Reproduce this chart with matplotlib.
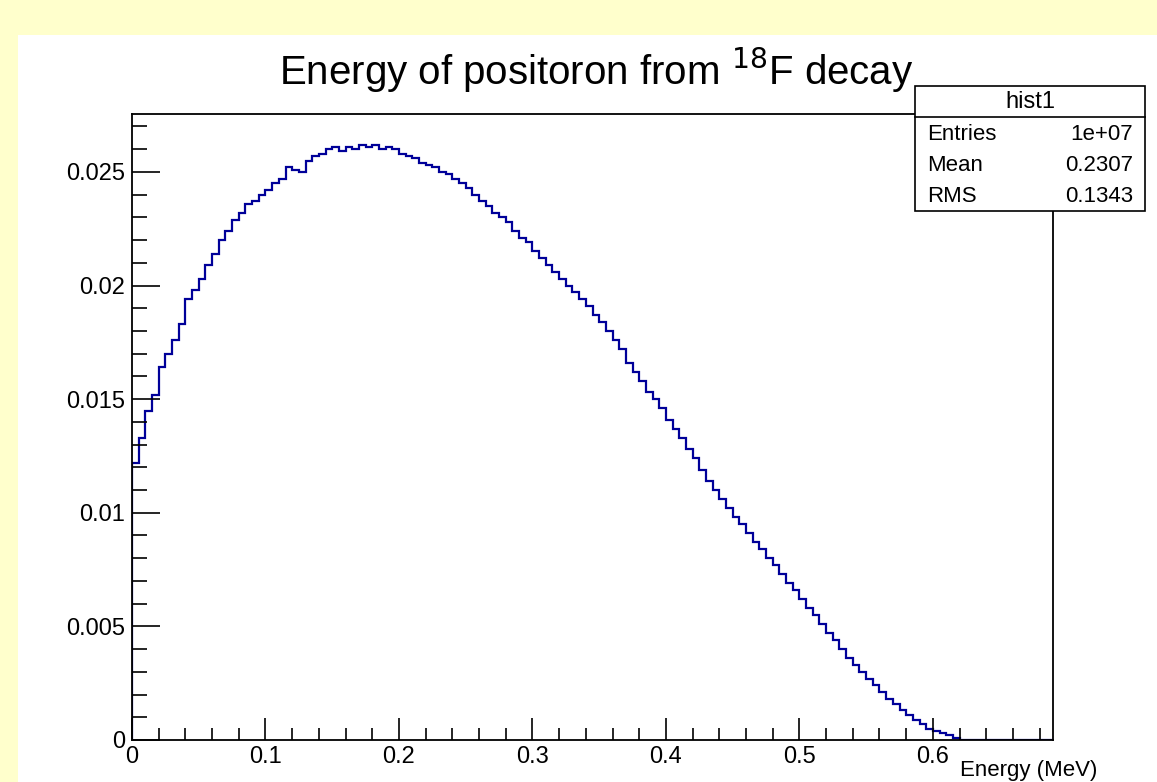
import matplotlib
matplotlib.use("Agg")
import matplotlib.pyplot as plt
import matplotlib.patches as patches
from matplotlib.ticker import MultipleLocator
import numpy as np

plt.rcParams['font.family'] = ['Liberation Sans', 'DejaVu Sans']

# histogram "hist1": positron energy (MeV), bin width 0.005 from 0 to 0.69
bin_width = 0.005
x_max = 0.69
counts = [
    0.0122, 0.0133, 0.0145, 0.0152, 0.0164, 0.0170, 0.0176, 0.0183, 0.0194, 0.0198,
    0.0203, 0.0209, 0.0214, 0.0220, 0.0224, 0.0229, 0.0232, 0.0236, 0.0237, 0.0240,
    0.0242, 0.0245, 0.0247, 0.0252, 0.0251, 0.0250, 0.0255, 0.0257, 0.0258, 0.0260,
    0.0261, 0.0259, 0.0261, 0.0260, 0.0262, 0.0261, 0.0262, 0.0260, 0.0261, 0.0260,
    0.0258, 0.0257, 0.0256, 0.0254, 0.0253, 0.0252, 0.0250, 0.0249, 0.0247, 0.0245,
    0.0243, 0.0240, 0.0237, 0.0235, 0.0232, 0.0230, 0.0228, 0.0224, 0.0221, 0.0219,
    0.0215, 0.0212, 0.0209, 0.0206, 0.0203, 0.0200, 0.0197, 0.0194, 0.0191, 0.0187,
    0.0184, 0.0180, 0.0176, 0.0172, 0.0166, 0.0162, 0.0158, 0.0153, 0.0150, 0.0146,
    0.0141, 0.0137, 0.0133, 0.0128, 0.0124, 0.0119, 0.0114, 0.0110, 0.0106, 0.0102,
    0.0098, 0.0095, 0.0091, 0.0087, 0.0084, 0.0080, 0.0077, 0.0073, 0.0069, 0.0066,
    0.0062, 0.0058, 0.0055, 0.0051, 0.0047, 0.0044, 0.0040, 0.0036, 0.0033, 0.0030,
    0.0027, 0.0024, 0.0021, 0.0018, 0.0016, 0.0013, 0.0011, 0.0009, 0.0007, 0.0005,
    0.0004, 0.0003, 0.0002, 0.0001,
]
n_bins = int(round(x_max / bin_width))
values = np.array(counts + [0.0] * (n_bins - len(counts)))
edges = np.linspace(0, x_max, n_bins + 1)

title = "Energy of positoron from $^{18}$F decay"
x_label = "Energy (MeV)"
stats_name = "hist1"
stats_rows = [("Entries", "1e+07"), ("Mean", "0.2307"), ("RMS", "0.1343")]

W, H = 1157, 782
fig = plt.figure(figsize=(W / 100, H / 100), dpi=100, facecolor='#FFFFCC')

# white canvas (ROOT pad)
fig.patches.append(patches.Rectangle((18 / W, 0), 1, 1 - 35 / H, transform=fig.transFigure,
                                     facecolor='white', edgecolor='none', zorder=0.5))

ax = fig.add_axes([132 / W, 1 - 740 / H, (1053 - 132) / W, (740 - 114) / H], zorder=2)
ax.stairs(values, edges, color='#000099', lw=1.6)
ax.set_xlim(0, x_max)
ax.set_ylim(0, 0.02755)

ax.xaxis.set_major_locator(MultipleLocator(0.1))
ax.xaxis.set_minor_locator(MultipleLocator(0.02))
ax.yaxis.set_major_locator(MultipleLocator(0.005))
ax.yaxis.set_minor_locator(MultipleLocator(0.001))
ax.xaxis.set_major_formatter(plt.FuncFormatter(lambda v, p: '0' if v == 0 else f'{v:g}'))
ax.yaxis.set_major_formatter(plt.FuncFormatter(lambda v, p: '0' if v == 0 else f'{v:g}'))

ax.tick_params(axis='both', which='both', direction='in', top=False, right=False,
               labelsize=17, width=1.2, color='black')
ax.tick_params(axis='y', which='major', length=20, pad=5)
ax.tick_params(axis='y', which='minor', length=11)
ax.tick_params(axis='x', which='major', length=16, pad=4)
ax.tick_params(axis='x', which='minor', length=8.5)
for s in ax.spines.values():
    s.set_linewidth(1.3)

fig.text(596 / W, 1 - 70 / H, title, ha='center', va='center', fontsize=29, zorder=5)
# x title sits below the right end of the axis (kept clear of the 0.6 label)
fig.text(960 / W, 1 - 760 / H, x_label, ha='left', va='top', fontsize=16, zorder=5)

# stats box
bx0, bx1, by0, by1, hy = 915, 1145, 86, 211, 117
fig.patches.append(patches.Rectangle((bx0 / W, 1 - by1 / H), (bx1 - bx0) / W, (by1 - by0) / H,
                                     transform=fig.transFigure, facecolor='white',
                                     edgecolor='black', lw=1.2, zorder=5))
fig.add_artist(plt.Line2D([bx0 / W, bx1 / W], [1 - hy / H, 1 - hy / H], color='black',
                          lw=1.2, transform=fig.transFigure, zorder=6))
fig.text((bx0 + bx1) / 2 / W, 1 - 102 / H, stats_name, ha='center', va='center',
         fontsize=17, zorder=7)
for i, (lab, val) in enumerate(stats_rows):
    yy = 1 - (135 + i * 30.5) / H
    fig.text(927 / W, yy, lab, ha='left', va='center', fontsize=16, zorder=7)
    fig.text(1133 / W, yy, val, ha='right', va='center', fontsize=16, zorder=7)

fig.savefig('out.png', dpi=100, facecolor=fig.get_facecolor())
